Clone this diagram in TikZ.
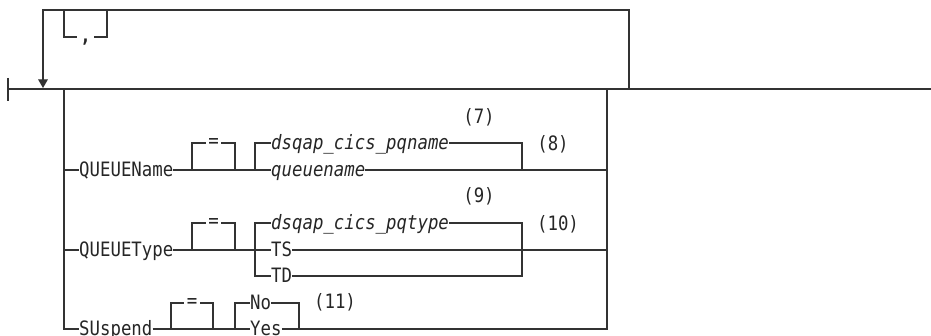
\documentclass[tikz,border=0pt]{standalone}
\usepackage{fontspec}
\usetikzlibrary{arrows.meta}
\newfontfamily\synfont[FakeStretch=0.877]{DejaVu Sans Mono}
\definecolor{railc}{HTML}{333333}
\tikzset{kw/.style={anchor=base west,inner sep=0pt,text=black!85,font=\synfont\fontsize{19.8}{22}\selectfont},var/.style={kw,font=\synfont\itshape\fontsize{19.8}{22}\selectfont},eqs/.style={inner xsep=2.5pt,inner ysep=0pt,text=black!85,font=\synfont\fontsize{19.8}{22}\selectfont},note/.style={inner sep=0pt,text=black!85,font=\synfont\fontsize{19.8}{22}\selectfont},rail/.style={draw=railc,line width=1.2pt},arrow/.style={-{Triangle[width=9.6pt,length=8.6pt]}}}

\begin{document}
\begin{tikzpicture}[x=1pt,y=-1pt]
\useasboundingbox (0,0) rectangle (931,336);
% row levels
\coordinate (m) at (0,89);\coordinate (sb) at (0,37);
\coordinate (r1a) at (0,143);\coordinate (r1) at (0,170);
\coordinate (r2a) at (0,223);\coordinate (r2) at (0,250);\coordinate (r2b) at (0,276);
\coordinate (r3a) at (0,303);\coordinate (r3) at (0,329);
% main line
\coordinate (start) at (8,89);\coordinate (end) at (931,89);
\coordinate (tk1) at (8,78);\coordinate (tk2) at (8,101);
\draw[rail](start)--(end);\draw[rail](tk1)--(tk2);
\coordinate (d1) at (16,89);\coordinate (d2) at (23,89);\coordinate (d3) at (634,89);\coordinate (d4) at (655,89);
\draw[rail,line width=2.2pt](d1)--(d2);\draw[rail,line width=2.2pt](d3)--(d4);
% repeat loop with separator
\coordinate (lp1) at (629,89);\coordinate (lp2) at (629,10);\coordinate (lp3) at (43,10);\coordinate (lp4) at (43,88);
\draw[rail,arrow](lp1)--(lp2)--(lp3)--(lp4);
\node[note,anchor=north,inner xsep=3.5pt,font=\synfont\bfseries\fontsize{19.8}{22}\selectfont] (comma) at (85.5,38.5) {,};
\coordinate (s1) at (64,10);\coordinate (s2) at (107,10);
\draw[rail](s1)|-(comma.west|-sb);\draw[rail](s2)|-(comma.east|-sb);
% option stack
\coordinate (ol) at (64,89);\coordinate (or) at (607,89);
% QUEUEName
\node[kw] (qname) at (79,177) {QUEUEName};
\node[eqs] (qeq) at (213.5,143) {=};
\node[var] (qd) at (271,150) {dsqap\_cics\_pqname};
\node[var] (qn) at (271,177) {queuename};
\node[note] (n7) at (479,117) {(7)};
\node[note] (n8) at (553,144) {(8)};
\coordinate (e1l) at (192,170);\coordinate (e1r) at (235,170);\coordinate (b1) at (255,170);\coordinate (j1) at (522,170);
\draw[rail](ol|-r1)--(qname.west|-r1);
\draw[rail](qname.east|-r1)--(qn.west|-r1);\draw[rail](qn.east|-r1)--(or|-r1);
\draw[rail](e1l)|-(qeq.west);\draw[rail](e1r)|-(qeq.east);
\draw[rail](b1)|-(qd.west|-r1a);\draw[rail](qd.east|-r1a)-|(j1);
% QUEUEType
\node[kw] (qtype) at (79,257) {QUEUEType};
\node[eqs] (teq) at (213.5,223) {=};
\node[var] (tq) at (271,230) {dsqap\_cics\_pqtype};
\node[kw] (ts) at (271,257) {TS};
\node[kw] (td) at (271,283) {TD};
\node[note] (n9) at (479,196) {(9)};
\node[note] (n10) at (558,224) {(10)};
\coordinate (e2l) at (192,250);\coordinate (e2r) at (235,250);
\coordinate (b2a) at (255,223);\coordinate (b2b) at (255,276);\coordinate (j2a) at (522,223);\coordinate (j2b) at (522,276);
\draw[rail](ol|-r2)--(qtype.west|-r2);
\draw[rail](qtype.east|-r2)--(ts.west|-r2);\draw[rail](ts.east|-r2)--(or|-r2);
\draw[rail](e2l)|-(teq.west);\draw[rail](e2r)|-(teq.east);
\draw[rail](tq.west|-r2a)--(b2a)--(b2b)--(td.west|-r2b);
\draw[rail](tq.east|-r2a)--(j2a)--(j2b)--(td.east|-r2b);
% SUspend
\node[kw] (susp) at (79,336) {SUspend};
\node[eqs] (seq) at (192,303) {=};
\node[kw] (no) at (250,310) {No};
\node[kw] (yes) at (250,336) {Yes};
\node[note] (n11) at (335,302) {(11)};
\coordinate (e3l) at (171,329);\coordinate (e3r) at (213,329);\coordinate (b3) at (235,329);\coordinate (j3) at (299,329);
\draw[rail](ol)|-(susp.west|-r3);
\draw[rail](susp.east|-r3)--(yes.west|-r3);\draw[rail](yes.east|-r3)-|(or);
\draw[rail](e3l)|-(seq.west);\draw[rail](e3r)|-(seq.east);
\draw[rail](b3)|-(no.west|-r3a);\draw[rail](no.east|-r3a)-|(j3);
\end{tikzpicture}
\end{document}
